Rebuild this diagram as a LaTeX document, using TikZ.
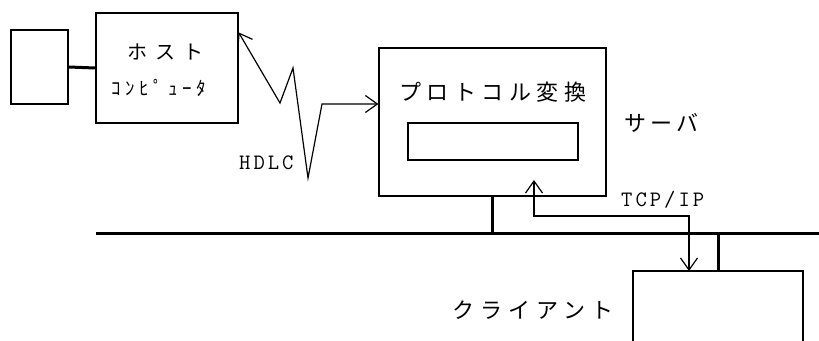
\documentclass[tikz,border=0pt]{standalone}
\usepackage{fontspec}
\newfontfamily\jp{Noto Sans CJK JP}
\usetikzlibrary{arrows.meta}

\begin{document}
\begin{tikzpicture}[x=1pt,y=-1pt,
    box/.style={draw,line width=1.2pt,inner sep=0pt},
    sig/.style={line width=1.2pt,{Straight Barb[length=12pt,width=17pt]}-{Straight Barb[length=12pt,width=17pt]}},
    busline/.style={line width=3pt},
    lbl/.style={anchor=west,inner sep=0pt},
    tt/.style={lbl,font=\ttfamily\fontsize{22}{22}\selectfont}]
      \useasboundingbox (0,0) rectangle (819,340);

      % BOXES
      \node[box,minimum width=57pt,minimum height=74pt]  (term)   at (39.5,67)  {};
      \node[box,minimum width=142pt,minimum height=110pt] (host)  at (167,68)   {};
      \node[box,minimum width=227pt,minimum height=148pt] (server) at (492.5,122) {};
      \node[box,minimum width=170pt,minimum height=37pt]  (buffer) at (493,141.5) {};
      \node[box,minimum width=170pt,minimum height=98pt]  (client) at (718,320)  {};

      % LABELS
      \node[lbl] (hostA)  at (127,52)  {\jp\fontsize{20}{20}\selectfont\addfontfeature{LetterSpace=40}ホスト};
      \node[lbl] (hostB)  at (111,88)  {\jp\fontsize{19}{19}\selectfont\addfontfeature{LetterSpace=25}ｺﾝﾋﾟｭｰﾀ};
      \node[lbl] (proto)  at (399,92)  {\jp\fontsize{22}{22}\selectfont\addfontfeature{LetterSpace=25}プロトコル変換};
      \node[lbl] (srvlbl) at (624,123) {\jp\fontsize{22}{22}\selectfont\addfontfeature{LetterSpace=20}サーバ};
      \node[lbl] (clilbl) at (452,310) {\jp\fontsize{22}{22}\selectfont\addfontfeature{LetterSpace=27}クライアント};
      \node[tt] (hdlc)    at (239,163) {H\kern3pt D\kern3pt L\kern3pt C};
      \node[tt] (tcp)     at (621,200) {T\kern3pt C\kern3pt P\kern3pt /\kern3pt I\kern3pt P};

      % LAN
      \coordinate (busL) at (96,233);
      \coordinate (busR) at (819,233);
      \coordinate (tcpA) at (534,180);
      \coordinate (tcpB) at (689,271);
      \draw[busline] (busL) -- (busR);
      \draw[busline] (term.east) -- (host.west);
      \draw[busline] (server.south) -- (server.south |- busL);
      \draw[busline] (client.north) -- (client.north |- busL);

      % ARROWS
      \draw[sig] ([yshift=-20pt]host.north east) -- (280,103) -- (293,68)
            -- (308,178) -- (322,104) -- ([yshift=18pt]server.west);
      \draw[sig] (tcpA) -- ++(0,36) -| (tcpB);
\end{tikzpicture}
\end{document}
